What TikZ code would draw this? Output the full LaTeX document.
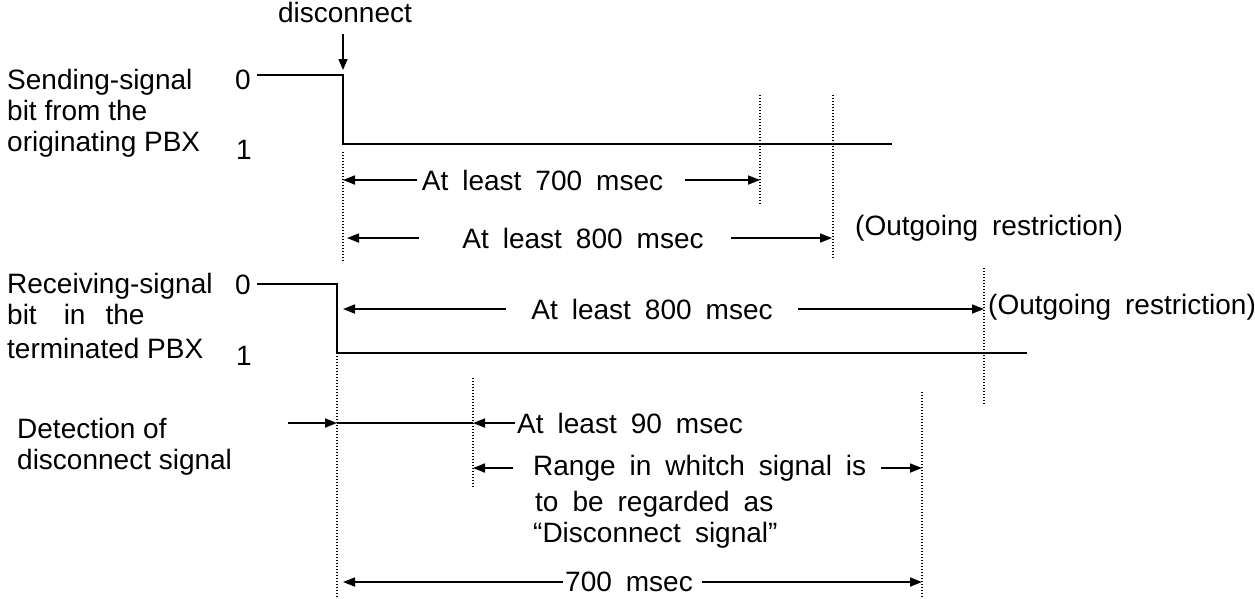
\documentclass[tikz,border=0pt]{standalone}
\usepackage{fontspec}
\setmainfont{Liberation Sans}
\usepackage{tikz}
\usetikzlibrary{arrows.meta,positioning}
\definecolor{ink}{RGB}{0,0,0}

\begin{document}
\begin{tikzpicture}[x=1pt,y=-1pt,
    lbl/.style={inner sep=0pt,text=ink,font=\fontsize{28}{31}\selectfont},
    wide/.style={lbl,execute at begin node={\spaceskip=14pt plus 2pt\relax}},
    sig/.style={draw=ink,line width=2pt},
    guide/.style={draw=ink,line width=1.3pt,dash pattern=on 1.3pt off 1.7pt},
    dim/.style={draw=ink,line width=1.7pt,-{Triangle[length=12pt,width=9pt]}}]
  \useasboundingbox (0,0) rectangle (1255,598);

  \node[lbl,anchor=north] (disc) at (345,2) {disconnect};
  \node[lbl,anchor=north west,align=left] (sendlbl) at (7,69)
    {Sending-signal\\bit from the\\originating PBX};
  \node[lbl] (szero) at (243,80) {0};
  \node[lbl] (sone) at (244,150) {1};
  \coordinate (sstart) at (257,75);
  \coordinate (sfall) at (343,75);
  \coordinate (srise) at (343,144);
  \coordinate (send) at (892,144);
  \draw[sig] (sstart) -- (sfall) -- (srise) -- (send);
  \draw[dim,line width=1.5pt,-{Triangle[length=11pt,width=9pt]}]
    ([yshift=-11pt]disc.south -| sfall) -- ([yshift=5pt]sfall);

  \coordinate (ga) at (343,152); \coordinate (ga2) at (343,262);
  \coordinate (gb) at (760,95);  \coordinate (gb2) at (760,205);
  \coordinate (gc) at (833,95);  \coordinate (gc2) at (833,258);
  \draw[guide] (ga) -- (ga2);
  \draw[guide] (gb) -- (gb2);
  \draw[guide] (gc) -- (gc2);

  \node[wide] (least700) at (542.5,180) {At least 700 msec};
  \draw[dim] ([xshift=-5pt]least700.west) -- (ga |- least700);
  \draw[dim] ([xshift=22pt]least700.east) -- (gb |- least700);
  \node[wide] (least800a) at (583,238) {At least 800 msec};
  \draw[dim,shorten >=4pt] ([xshift=-43pt]least800a.west) -- (ga |- least800a);
  \draw[dim,shorten >=1pt] ([xshift=27pt]least800a.east) -- (gc |- least800a);
  \node[wide,anchor=west] (restra) at (855,228) {(Outgoing restriction)};

  \node[lbl,anchor=north west,align=left] (recvlbl) at (7,273)
    {Receiving-signal\\bit\hspace{27pt}in\hspace{20pt}the\\[3pt]terminated PBX};
  \node[lbl] (rzero) at (243,285) {0};
  \node[lbl] (rone) at (244,356) {1};
  \coordinate (rstart) at (257,284);
  \coordinate (rfall) at (337,284);
  \coordinate (rrise) at (337,353);
  \coordinate (rend) at (1027,353);
  \draw[sig] (rstart) -- (rfall) -- (rrise) -- (rend);

  \coordinate (gd) at (984,268); \coordinate (gd2) at (984,405);
  \coordinate (ge2) at (337,598);
  \coordinate (gf) at (473,378); \coordinate (gf2) at (473,488);
  \coordinate (gg) at (922,392); \coordinate (gg2) at (922,598);
  \draw[guide] (gd) -- (gd2);
  \draw[guide] (rrise) -- (ge2);
  \draw[guide] (gf) -- (gf2);
  \draw[guide] (gg) -- (gg2);

  \node[wide] (least800b) at (652,309) {At least 800 msec};
  \draw[dim,shorten >=6pt] ([xshift=-25pt]least800b.west) -- (rfall |- least800b);
  \draw[dim] ([xshift=25pt]least800b.east) -- (gd |- least800b);
  \node[wide,anchor=west] (restrb) at (988,307) {(Outgoing restriction)};

  \node[lbl,anchor=north west,align=left] (detlbl) at (17,418)
    {Detection of\\disconnect signal};
  \coordinate (dettail) at (288,423);
  \draw[dim] (dettail) -- (rrise |- dettail);
  \draw[sig] (rrise |- dettail) -- (gf |- dettail);
  \node[wide,anchor=west] (least90) at (517,423) {At least 90 msec};
  \draw[dim] ([xshift=-2pt]least90.west) -- (gf |- least90);

  \node[wide,anchor=west] (range) at (533,468) {Range in whitch signal is};
  \node[wide,align=left,below=10pt of range.south west,anchor=north west] (regard)
    {\hspace{2pt}to be regarded as\\“Disconnect signal”};
  \draw[dim] ([xshift=-20pt]range.west) -- (gf |- range);
  \draw[dim] ([xshift=15pt]range.east) -- (gg |- range);

  \node[wide,anchor=west] (ms700) at (565,582) {700 msec};
  \draw[dim,shorten >=6pt] ([xshift=-2pt]ms700.west) -- (rrise |- ms700);
  \draw[dim] ([xshift=9pt]ms700.east) -- (gg |- ms700);
\end{tikzpicture}
\end{document}
